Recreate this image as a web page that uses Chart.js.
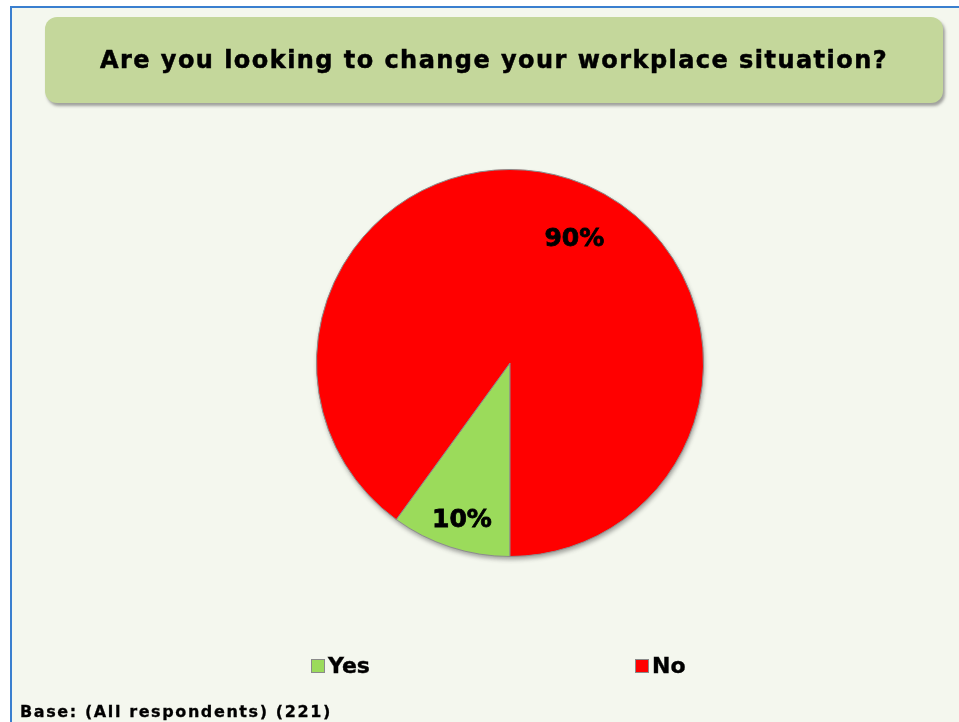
<!DOCTYPE html>
<html>
<head>
<meta charset="utf-8">
<script src="https://cdn.jsdelivr.net/npm/chart.js@4.4.1/dist/chart.umd.min.js"></script>
<style>
  html, body { margin: 0; padding: 0; background: #fff; }
  body { width: 959px; height: 722px; overflow: hidden; position: relative; font-family: "DejaVu Sans", Verdana, sans-serif; }
  #frame { position: absolute; left: 10px; top: 6px; width: 1000px; height: 760px; border-left: 2px solid #3a7fcf; border-top: 2px solid #3a7fcf; background: #f4f7ee; }
  #title { position: absolute; left: 45px; top: 17px; width: 898px; height: 86px; border-radius: 12px; background: #c4d79b;
           box-shadow: 2px 3px 3px rgba(90,90,90,0.55); display: flex; align-items: center; justify-content: center;
           font-weight: bold; font-size: 24px; letter-spacing: 1.45px; -webkit-text-stroke: 0.5px #000; color: #000; z-index: 2; }
  #pie { position: absolute; left: 0; top: 0; z-index: 1; }
  #legend { position: absolute; left: 311px; top: 655px; display: grid; grid-template-columns: 324px 200px; z-index: 2; }
  .item { display: flex; align-items: flex-start; font-weight: bold; font-size: 22px; line-height: 21px; -webkit-text-stroke: 0.4px #000; }
  .box { width: 12px; height: 12px; border: 1px solid #8a8a8a; margin-top: 4px; margin-right: 3px; }
  #base { position: absolute; left: 20px; top: 704px; font-weight: bold; font-size: 16px; line-height: 15px; letter-spacing: 1.6px; -webkit-text-stroke: 0.3px #000; z-index: 2; }
</style>
</head>
<body>
<div id="frame"></div>
<div id="title">Are you looking to change your workplace situation?</div>
<canvas id="pie" width="959" height="722"></canvas>
<div id="legend"></div>
<div id="base">Base: (All respondents) (221)</div>
<script>
// chart data
const categories = ['Yes', 'No'];
const shares = [10, 90];
const sliceColors = ['#9bdb5b', '#ff0000'];

// Pie labels, placed on each arc (radial fraction, extra turn in degrees)
const sliceLabels = {
  id: 'sliceLabels',
  afterDatasetsDraw(chart, args, opts) {
    const ctx = chart.ctx;
    const meta = chart.getDatasetMeta(0);
    ctx.save();
    ctx.font = 'bold 25px "DejaVu Sans", Verdana, sans-serif';
    ctx.fillStyle = '#000';
    ctx.strokeStyle = '#000';
    ctx.lineWidth = 0.8;
    ctx.textAlign = 'center';
    ctx.textBaseline = 'middle';
    meta.data.forEach((arc, i) => {
      const p = arc.getProps(['x', 'y', 'startAngle', 'endAngle', 'outerRadius'], true);
      const place = opts.place[i];
      const mid = (p.startAngle + p.endAngle) / 2 + place.turn * Math.PI / 180;
      const r = p.outerRadius * place.radius;
      const tx = p.x + Math.cos(mid) * r, ty = p.y + Math.sin(mid) * r;
      ctx.fillText(shares[i] + '%', tx, ty);
      ctx.strokeText(shares[i] + '%', tx, ty);
    });
    ctx.restore();
  }
};

// soft drop shadow under the pie
const pieShadow = {
  id: 'pieShadow',
  beforeDatasetsDraw(chart) {
    const arc = chart.getDatasetMeta(0).data[0];
    if (!arc) return;
    const ctx = chart.ctx;
    ctx.save();
    ctx.shadowColor = 'rgba(60,60,60,0.45)';
    ctx.shadowBlur = 4;
    ctx.shadowOffsetX = 1;
    ctx.shadowOffsetY = 3;
    ctx.fillStyle = '#bbbbbb';
    ctx.beginPath();
    ctx.arc(arc.x, arc.y, arc.outerRadius, 0, Math.PI * 2);
    ctx.fill();
    ctx.restore();
  }
};

const chart = new Chart(document.getElementById('pie'), {
  type: 'pie',
  data: {
    labels: categories,
    datasets: [{
      data: shares,
      backgroundColor: sliceColors,
      borderColor: '#8c8c8c',
      borderWidth: 1
    }]
  },
  options: {
    responsive: false,
    animation: false,
    rotation: 180,
    layout: { padding: { left: 316, right: 255, top: 169, bottom: 165 } },
    plugins: {
      legend: { display: false },
      tooltip: { enabled: false },
      sliceLabels: { place: [{ radius: 0.85, turn: -1 }, { radius: 0.72, turn: 9.5 }] }
    }
  },
  plugins: [pieShadow, sliceLabels]
});

// legend built from the same arrays
const legend = document.getElementById('legend');
categories.forEach((name, i) => {
  const item = document.createElement('div');
  item.className = 'item';
  item.innerHTML = `<span class="box" style="background:${sliceColors[i]}"></span><span>${name}</span>`;
  legend.appendChild(item);
});
</script>
</body>
</html>
